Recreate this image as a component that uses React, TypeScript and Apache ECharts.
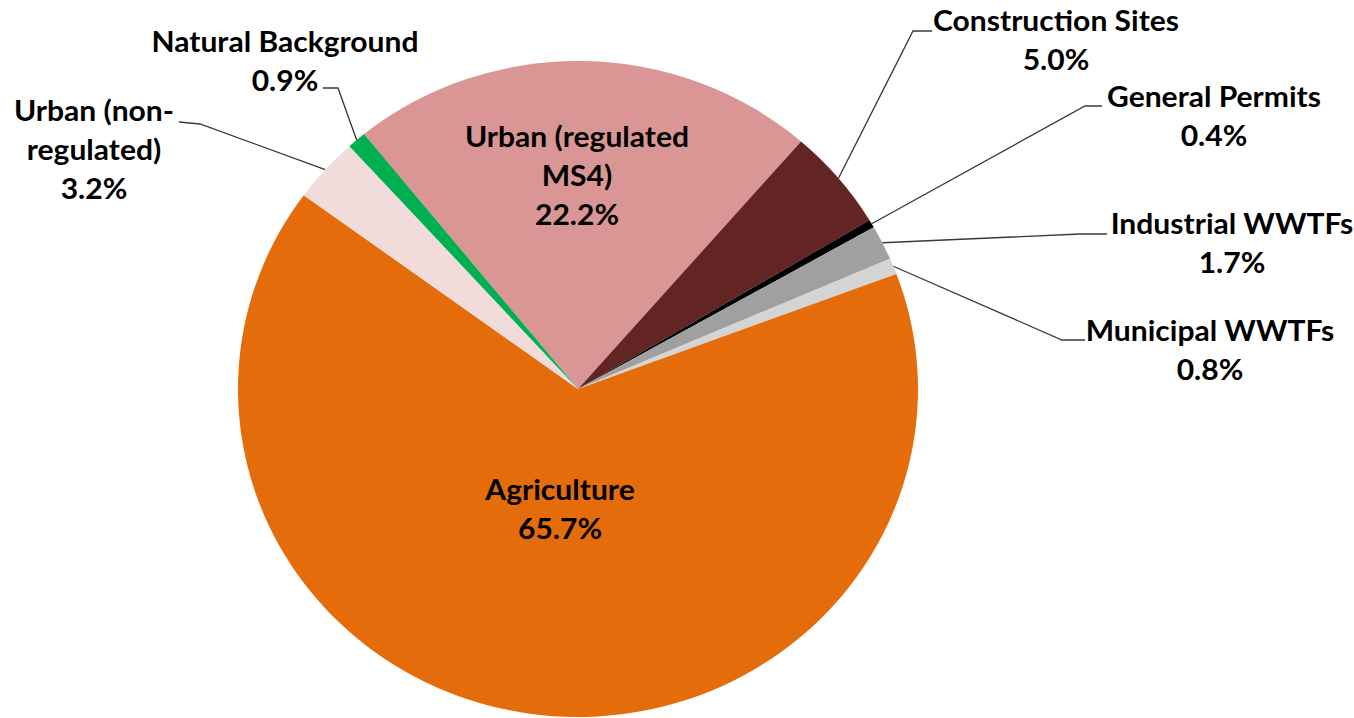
import React, { useEffect, useRef } from "react";
import * as echarts from "echarts";

const categories = [
  "Urban (regulated\nMS4)",
  "Construction Sites",
  "General Permits",
  "Industrial WWTFs",
  "Municipal WWTFs",
  "Agriculture",
  "Urban (non-\nregulated)",
  "Natural Background",
];
const values = [22.2, 5.0, 0.4, 1.7, 0.8, 65.7, 3.2, 0.9];
const colors = ["#D99694", "#632523", "#000000", "#A0A0A0", "#D4D4D4", "#E46C0A", "#F2DCDB", "#00B050"];
const insideLabel = [true, false, false, false, false, true, false, false];

// label placement on screen (centre of text block) and leader line bend/end points
const labelPlacement: { x: number; y: number; bend?: number[]; end?: number[] }[] = [
  { x: 577, y: 175 },
  { x: 1056, y: 39, bend: [913, 31], end: [932, 31] },
  { x: 1214, y: 115, bend: [1085, 106], end: [1102, 106] },
  { x: 1232, y: 242, bend: [1080, 234], end: [1107, 234] },
  { x: 1210, y: 349, bend: [1062, 340], end: [1085, 340] },
  { x: 560, y: 508 },
  { x: 94, y: 149, bend: [200, 124], end: [179, 122] },
  { x: 285, y: 60, bend: [338, 88], end: [323, 88] },
];

// the original picture is slightly stretched horizontally
const SX = 340 / 328;
const W = 1354 / SX;
const CX = 578 / SX;
const CY = 389;
const R = 328;
const START_ANGLE = 129;

export default function App() {
  const ref = useRef<HTMLDivElement>(null);
  useEffect(() => {
    if (!ref.current) return;
    const chart = echarts.init(ref.current, undefined, { renderer: "svg" });
    const total = values.reduce((a, b) => a + b, 0);
    const startPoint = (idx: number) => {
      let cum = 0;
      for (let i = 0; i < idx; i++) cum += values[i];
      const mid = cum + values[idx] / 2;
      const ang = ((START_ANGLE - (mid / total) * 360) * Math.PI) / 180;
      return [CX + R * Math.cos(ang), CY - R * Math.sin(ang)];
    };
    chart.setOption({
      animation: false,
      backgroundColor: "#ffffff",
      series: [
        {
          type: "pie",
          center: [CX, CY],
          radius: R,
          startAngle: START_ANGLE,
          clockwise: true,
          avoidLabelOverlap: false,
          silent: true,
          itemStyle: { borderWidth: 0 },
          label: {
            show: true,
            fontFamily: "Lato",
            fontWeight: "bold",
            fontSize: 29,
            lineHeight: 39,
            color: "#000000",
            align: "center",
            formatter: (p: any) => `${p.name}\n${Number(p.value).toFixed(1)}%`,
          },
          labelLine: {
            show: true,
            length: 20,
            length2: 20,
            lineStyle: { color: "#3a3a3a", width: 1.3 },
          },
          labelLayout: (params: any) => {
            const L = labelPlacement[params.dataIndex];
            const res: any = { x: L.x / SX, y: L.y, align: "center", verticalAlign: "middle" };
            if (L.end && L.bend) {
              const s =
                params.labelLinePoints && params.labelLinePoints[0]
                  ? params.labelLinePoints[0]
                  : startPoint(params.dataIndex);
              res.labelLinePoints = [s, [L.bend[0] / SX, L.bend[1]], [L.end[0] / SX, L.end[1]]];
            }
            return res;
          },
          data: categories.map((name, i) => ({
            name,
            value: values[i],
            itemStyle: { color: colors[i] },
            label: { position: insideLabel[i] ? "inside" : "outside" },
            labelLine: { show: !insideLabel[i] },
          })),
        },
      ],
    });
    return () => chart.dispose();
  }, []);
  return (
    <div style={{ position: "absolute", left: 0, top: 0, width: 1354, height: 718, overflow: "hidden", background: "#fff" }}>
      <div
        ref={ref}
        style={{
          position: "absolute",
          left: 0,
          top: 0,
          width: W,
          height: 718,
          transform: `scale(${SX}, 1)`,
          transformOrigin: "0 0",
        }}
      />
    </div>
  );
}
